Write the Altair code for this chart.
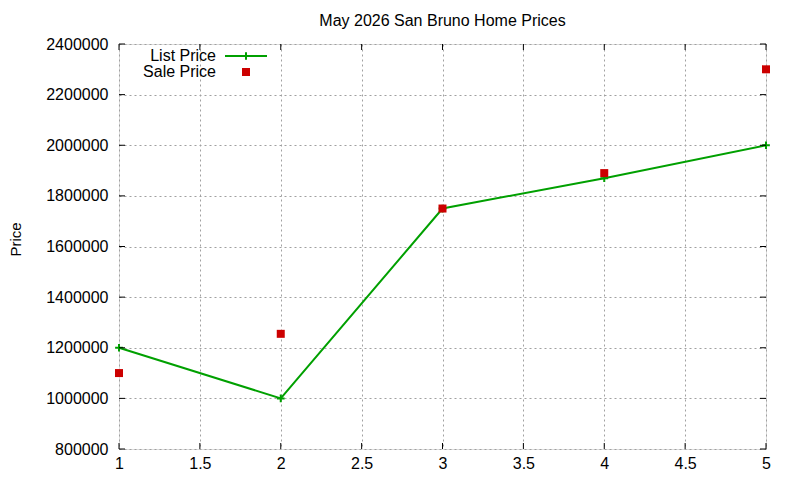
import altair as alt
import pandas as pd

x_vals = [1, 2, 3, 4, 5]
list_price = [1200000, 1000000, 1750000, 1870000, 2000000]
sale_price = [1100000, 1255000, 1750000, 1890000, 2300000]
x_ticks = [1, 1.5, 2, 2.5, 3, 3.5, 4, 4.5, 5]
y_ticks = [800000, 1000000, 1200000, 1400000, 1600000, 1800000, 2000000, 2200000, 2400000]
chart_title = "May 2026 San Bruno Home Prices"
y_title = "Price"
legend_labels = ["List Price", "Sale Price"]

GREEN = "#00a000"
RED = "#cc0000"
FONT = "Liberation Sans"
W, H = 647, 405

df = pd.DataFrame({"x": x_vals, "list": list_price, "sale": sale_price})
xt = pd.DataFrame({"t": x_ticks})
yt = pd.DataFrame({"t": y_ticks})
one = alt.Data(values=[{}])

xs = alt.Scale(domain=[1, 5], nice=False, zero=False)
ys = alt.Scale(domain=[800000, 2400000], nice=False, zero=False)

x_axis = alt.Axis(values=x_ticks, grid=True, gridDash=[2, 3], gridColor="#a0a0a0",
                  ticks=False, domain=False, labelFontSize=16, labelFont=FONT,
                  labelColor="black", labelPadding=6, labelFlush=False, labelBound=False,
                  format="~g", title=None)
y_axis = alt.Axis(values=y_ticks, grid=True, gridDash=[2, 3], gridColor="#a0a0a0",
                  ticks=False, domain=False, labelFontSize=16, labelFont=FONT,
                  labelColor="black", labelPadding=11, format="d",
                  title=y_title, titleFont="Liberation Sans Narrow, Liberation Sans",
                  titleFontSize=15, titleFontWeight="normal",
                  titleColor="black", titleAngle=-90, titleX=-104, titleY=195,
                  titleAlign="center", titleBaseline="middle")

base = alt.Chart(df)

list_line = base.mark_line(color=GREEN, strokeWidth=2).encode(
    x=alt.X("x:Q", scale=xs, axis=x_axis),
    y=alt.Y("list:Q", scale=ys, axis=y_axis),
)
plus = base.mark_point(shape="M-1,0L1,0M0,-1L0,1", filled=False, color=GREEN,
                       strokeWidth=2, size=60, opacity=1).encode(
    x=alt.X("x:Q", scale=xs), y=alt.Y("list:Q", scale=ys))
sq = base.mark_square(color=RED, size=64, opacity=1).encode(
    x=alt.X("x:Q", scale=xs), y=alt.Y("sale:Q", scale=ys))

# inward ticks, mirrored on all four sides
ytick_l = alt.Chart(yt).mark_rule(color="black", strokeWidth=1).encode(
    y=alt.Y("t:Q", scale=ys), x=alt.value(0), x2=alt.value(6))
ytick_r = alt.Chart(yt).mark_rule(color="black", strokeWidth=1).encode(
    y=alt.Y("t:Q", scale=ys), x=alt.value(W - 6), x2=alt.value(W))
xtick_b = alt.Chart(xt).mark_rule(color="black", strokeWidth=1).encode(
    x=alt.X("t:Q", scale=xs), y=alt.value(H - 6), y2=alt.value(H))
xtick_t = alt.Chart(xt).mark_rule(color="black", strokeWidth=1).encode(
    x=alt.X("t:Q", scale=xs), y=alt.value(0), y2=alt.value(6))

# legend (gnuplot style: label then sample)
leg_t1 = alt.Chart(one).mark_text(text=legend_labels[0], align="right", baseline="middle",
                                  font=FONT, fontSize=16, color="black").encode(
    x=alt.value(97), y=alt.value(12))
leg_t2 = alt.Chart(one).mark_text(text=legend_labels[1], align="right", baseline="middle",
                                  font=FONT, fontSize=16, color="black").encode(
    x=alt.value(97), y=alt.value(28))
leg_line = alt.Chart(one).mark_rule(color=GREEN, strokeWidth=2).encode(
    x=alt.value(106), x2=alt.value(148), y=alt.value(12))
leg_plus = alt.Chart(one).mark_point(shape="M-1,0L1,0M0,-1L0,1", filled=False, color=GREEN,
                                     strokeWidth=2, size=60, opacity=1).encode(
    x=alt.value(127), y=alt.value(12))
leg_sq = alt.Chart(one).mark_square(color=RED, size=64, opacity=1).encode(
    x=alt.value(127), y=alt.value(28))

chart = alt.layer(
    list_line, plus, sq, ytick_l, ytick_r, xtick_b, xtick_t,
    leg_t1, leg_t2, leg_line, leg_plus, leg_sq,
).properties(
    width=W, height=H,
    title=alt.TitleParams(chart_title, font=FONT, fontSize=16, fontWeight="normal",
                          color="black", anchor="middle", offset=7),
    autosize=alt.AutoSizeParams(type="none"),
    padding={"left": 111, "top": 36, "right": 26, "bottom": 23},
).configure_view(stroke="black", strokeWidth=1).configure(background="white")

chart.save("out.html", embed_options={"renderer": "svg", "actions": False})
